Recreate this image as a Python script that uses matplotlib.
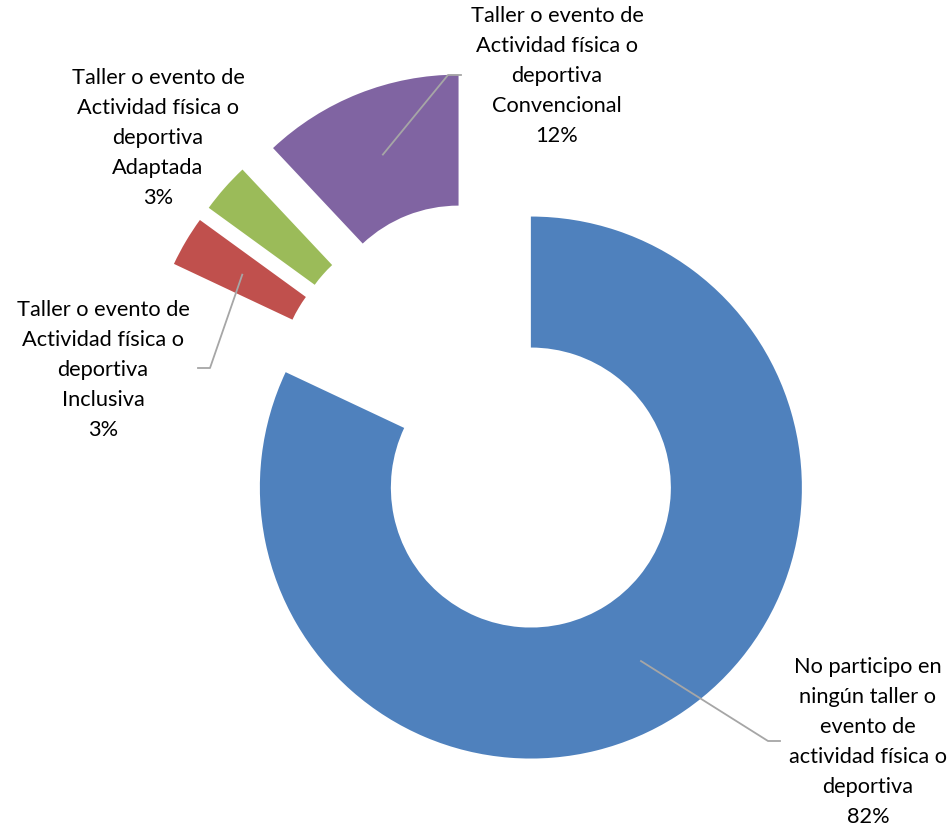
import numpy as np
import matplotlib
matplotlib.use("Agg")
from matplotlib import pyplot as plt

labels = ["No participo en\nningún taller o\nevento de\nactividad física o\ndeportiva",
          "Taller o evento de\nActividad física o\ndeportiva\nInclusiva",
          "Taller o evento de\nActividad física o\ndeportiva\nAdaptada",
          "Taller o evento de\nActividad física o\ndeportiva\nConvencional"]
values = [82, 3, 3, 12]
colors = ["#4F81BD", "#C0504D", "#9BBB59", "#8064A2"]

# label text centres and leader elbow points (pixels, y up)
text_pos = [(868, 84), (103, 456), (158, 688), (557, 750)]
elbows = [(768, 85), (210, 458), None, (448, 751)]
ends = [(780, 85), (198, 458), None, (461, 751)]

W, H = 953, 826
fig = plt.figure(figsize=(W / 100, H / 100), dpi=100)
ax = fig.add_axes([0, 0, 1, 1])

R = 271
ring = 131
wedges, _ = ax.pie(values, colors=colors, startangle=90, counterclock=False,
                   radius=R, center=(488, 406), explode=[80] * 4,
                   wedgeprops=dict(width=ring, linewidth=0))
ax.set_xlim(0, W)
ax.set_ylim(0, H)
ax.set_aspect("equal")
ax.axis("off")

for w, lab, v, tp, el, en in zip(wedges, labels, values, text_pos, elbows, ends):
    ax.text(tp[0], tp[1], lab + "\n" + str(v) + "%", ha="center", va="center",
            fontsize=15.7, family="Lato", linespacing=1.62, color="black")
    if el is None:
        continue
    mid = np.deg2rad((w.theta1 + w.theta2) / 2)
    rm = w.r - ring / 2
    ax_ = w.center[0] + rm * np.cos(mid)
    ay_ = w.center[1] + rm * np.sin(mid)
    ax.plot([ax_, el[0], en[0]], [ay_, el[1], en[1]], color="#A6A6A6", lw=1.3)

fig.savefig("out.png", dpi=100)
